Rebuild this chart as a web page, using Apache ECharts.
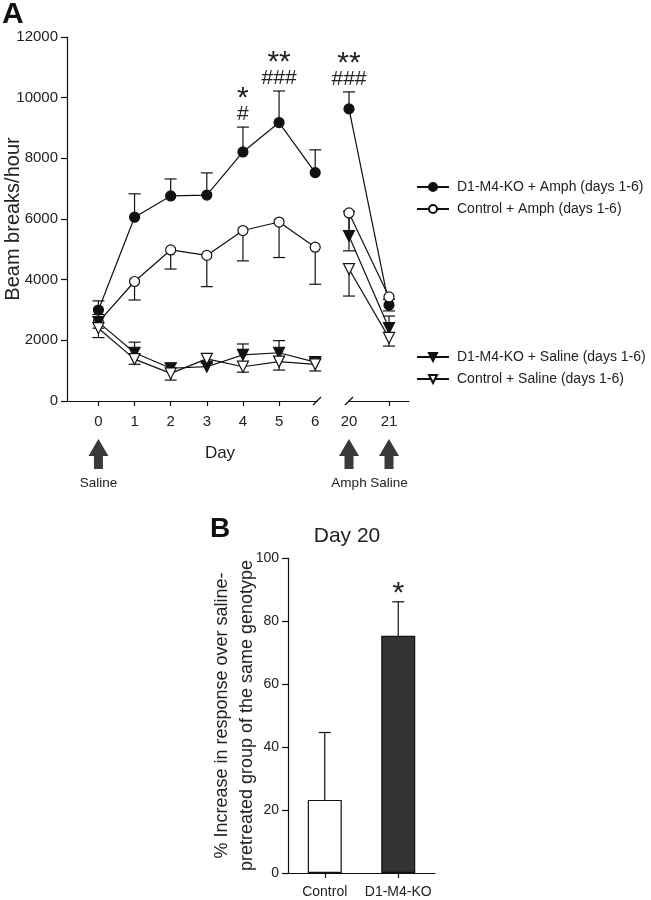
<!DOCTYPE html>
<html><head><meta charset="utf-8">
<script src="https://cdn.jsdelivr.net/npm/echarts@6/dist/echarts.min.js"></script>
<style>html,body{margin:0;padding:0;background:#fff}#c{width:651px;height:900px}</style>
</head><body><div id="c"></div>
<script>
// ---------- Panel A data ----------
const daysEarly = [0, 1, 2, 3, 4, 5, 6];
const daysLate = [20, 21];
const earlyTickDays = [0, 1, 2, 3, 4, 5];
const lateTickDays = [21];

const koAmphEarly    = [3000, 6060, 6760, 6790, 8210, 9180, 7530];
const koAmphEarlyErr = [3300, 6830, 7320, 7520, 9030, 10220, 8280];
const koAmphLate     = [9630, 3160];
const koAmphLateErr  = [10190, 3350];

const ctAmphEarly    = [2600, 3940, 4980, 4800, 5620, 5900, 5070];
const ctAmphEarlyErr = [2400, 3330, 4350, 3770, 4620, 4730, 3850];
const ctAmphLate     = [6200, 3430];
const ctAmphLateErr  = [4950, 2970];

const koSalEarly     = [2600, 1590, 1080, 1130, 1520, 1590, 1280];
const koSalEarlyErr  = [2850, 1940, 1240, 1250, 1880, 1990, 1380];
const koSalLate      = [5440, 2400];
const koSalLateErr   = [6250, 2800];

const ctSalEarly     = [2400, 1380, 910, 1390, 1130, 1300, 1210];
const ctSalEarlyErr  = [2090, 1210, 690, 1250, 950, 1020, 990];
const ctSalLate      = [4350, 2080];
const ctSalLateErr   = [3460, 1810];

const sigEarlyDays   = [4, 5];
const sigEarlyStars  = ['*', '**'];
const sigEarlyHashes = ['#', '###'];
const sigLateDays    = [20];
const sigLateStars   = ['**'];
const sigLateHashes  = ['###'];

const arrowEarlyDays   = [0];
const arrowEarlyLabels = ['Saline'];
const arrowLateDays    = [20, 21];
const arrowLateLabels  = ['Amph', 'Saline'];

// ---------- Panel B data ----------
const groupsB = ['Control', 'D1-M4-KO'];
const increaseB = [23.2, 75.3];
const increaseBErr = [44.6, 86.1];
const sigB = ['', '*'];

const FONT = '"Liberation Sans", Arial, Helvetica, sans-serif';
const INK = '#111';
const TXT = '#222';

const groups = [
  {name: 'D1-M4-KO + Amph (days 1-6)', symbol: 'circle', rot: 0, fill: INK, size: 10,
   early: koAmphEarly, earlyErr: koAmphEarlyErr, late: koAmphLate, lateErr: koAmphLateErr},
  {name: 'Control + Amph (days 1-6)', symbol: 'circle', rot: 0, fill: '#fff', size: 10,
   early: ctAmphEarly, earlyErr: ctAmphEarlyErr, late: ctAmphLate, lateErr: ctAmphLateErr},
  {name: 'D1-M4-KO + Saline (days 1-6)', symbol: 'triangle', rot: 180, fill: INK, size: 11,
   early: koSalEarly, earlyErr: koSalEarlyErr, late: koSalLate, lateErr: koSalLateErr},
  {name: 'Control + Saline (days 1-6)', symbol: 'triangle', rot: 180, fill: '#fff', size: 11,
   early: ctSalEarly, earlyErr: ctSalEarlyErr, late: ctSalLate, lateErr: ctSalLateErr}
];

function errRender(params, api) {
  const x = api.value(0);
  const p0 = api.coord([x, api.value(1)]);
  const p1 = api.coord([x, api.value(2)]);
  const w = 6;
  const st = {stroke: INK, lineWidth: 1.2};
  return {type: 'group', children: [
    {type: 'line', shape: {x1: p0[0], y1: p0[1], x2: p1[0], y2: p1[1]}, style: st},
    {type: 'line', shape: {x1: p1[0] - w, y1: p1[1], x2: p1[0] + w, y2: p1[1]}, style: st}
  ]};
}

function makeSig(stars, hashes) {
  return function (params, api) {
    const p = api.coord([api.value(0), api.value(1)]);
    const i = params.dataIndex;
    return {type: 'group', children: [
      {type: 'text', style: {text: stars[i], x: p[0], y: p[1] - 28, align: 'center', verticalAlign: 'middle',
        fontSize: 30, fontFamily: FONT, fill: TXT}},
      {type: 'text', style: {text: hashes[i], x: p[0], y: p[1] - 13, align: 'center', verticalAlign: 'middle',
        fontSize: 21, fontFamily: FONT, fill: TXT}}
    ]};
  };
}

function makeArrow(labels) {
  return function (params, api) {
    const p = api.coord([api.value(0), 0]);
    const x = p[0], y = p[1];
    return {type: 'group', children: [
      {type: 'polygon', shape: {points: [
        [x, y + 38], [x + 10, y + 55], [x + 4.5, y + 55], [x + 4.5, y + 68],
        [x - 4.5, y + 68], [x - 4.5, y + 55], [x - 10, y + 55]]},
        style: {fill: '#3a3a3a'}},
      {type: 'text', style: {text: labels[params.dataIndex], x: x, y: y + 82, align: 'center', verticalAlign: 'middle',
        fontSize: 13.5, fontFamily: FONT, fill: TXT}}
    ]};
  };
}

function slashRender(params, api) {
  const p = api.coord([api.value(0), 0]);
  return {type: 'line', shape: {x1: p[0] - 4, y1: p[1] + 4, x2: p[0] + 4, y2: p[1] - 4},
    style: {stroke: INK, lineWidth: 1.2}};
}

const series = [];
groups.forEach(function (g) {
  [[0, daysEarly, g.early, g.earlyErr], [1, daysLate, g.late, g.lateErr]].forEach(function (seg) {
    const ax = seg[0], days = seg[1], vals = seg[2], errs = seg[3];
    series.push({
      type: 'line', name: g.name, xAxisIndex: ax, yAxisIndex: ax, z: 3,
      data: days.map(function (d, i) { return [d, vals[i]]; }),
      symbol: g.symbol, symbolSize: g.size, symbolRotate: g.rot, showSymbol: true,
      itemStyle: {color: g.fill, borderColor: INK, borderWidth: 1.2, opacity: 1},
      lineStyle: {color: INK, width: 1.2},
      emphasis: {disabled: true}
    });
    series.push({
      type: 'custom', xAxisIndex: ax, yAxisIndex: ax, z: 2, clip: false,
      encode: {x: 0, y: 1}, silent: true,
      data: days.map(function (d, i) { return [d, vals[i], errs[i]]; }),
      renderItem: errRender
    });
  });
});

series.push({type: 'custom', xAxisIndex: 0, yAxisIndex: 0, clip: false, silent: true, z: 4,
  encode: {x: 0, y: 1},
  data: sigEarlyDays.map(function (d) { return [d, koAmphEarlyErr[daysEarly.indexOf(d)]]; }),
  renderItem: makeSig(sigEarlyStars, sigEarlyHashes)});
series.push({type: 'custom', xAxisIndex: 1, yAxisIndex: 1, clip: false, silent: true, z: 4,
  encode: {x: 0, y: 1},
  data: sigLateDays.map(function (d) { return [d, koAmphLateErr[daysLate.indexOf(d)]]; }),
  renderItem: makeSig(sigLateStars, sigLateHashes)});

series.push({type: 'custom', xAxisIndex: 0, yAxisIndex: 0, clip: false, silent: true,
  encode: {x: 0, y: 1}, data: arrowEarlyDays.map(function (d) { return [d, 0]; }),
  renderItem: makeArrow(arrowEarlyLabels)});
series.push({type: 'custom', xAxisIndex: 1, yAxisIndex: 1, clip: false, silent: true,
  encode: {x: 0, y: 1}, data: arrowLateDays.map(function (d) { return [d, 0]; }),
  renderItem: makeArrow(arrowLateLabels)});

series.push({type: 'custom', xAxisIndex: 0, yAxisIndex: 0, clip: false, silent: true, z: 5,
  encode: {x: 0, y: 1}, data: [[6.05, 0]], renderItem: slashRender});
series.push({type: 'custom', xAxisIndex: 1, yAxisIndex: 1, clip: false, silent: true, z: 5,
  encode: {x: 0, y: 1}, data: [[20, 0]], renderItem: slashRender});

// Panel B
series.push({
  type: 'bar', xAxisIndex: 2, yAxisIndex: 2, barWidth: 34, z: 2,
  data: increaseB.map(function (v, i) {
    return {value: v, itemStyle: {color: i === 0 ? '#fff' : '#333', borderColor: INK, borderWidth: 1.2}};
  }),
  emphasis: {disabled: true}
});
series.push({
  type: 'custom', xAxisIndex: 2, yAxisIndex: 2, z: 3, clip: false, silent: true,
  encode: {x: 0, y: 1},
  data: increaseB.map(function (v, i) { return [i, v, increaseBErr[i]]; }),
  renderItem: errRender
});
series.push({
  type: 'custom', xAxisIndex: 2, yAxisIndex: 2, z: 3, clip: false, silent: true,
  encode: {x: 0, y: 1},
  data: increaseBErr.map(function (v, i) { return [i, v]; }),
  renderItem: function (params, api) {
    const p = api.coord([api.value(0), api.value(1)]);
    return {type: 'text', style: {text: sigB[params.dataIndex], x: p[0], y: p[1] - 8,
      align: 'center', verticalAlign: 'middle', fontSize: 30, fontFamily: FONT, fill: TXT}};
  }
});

const axLine = {show: true, onZero: false, lineStyle: {color: INK, width: 1.2}};
const axTick = {show: true, length: 6, lineStyle: {color: INK, width: 1.2}};
const axLabel = {color: TXT, fontSize: 15, fontFamily: FONT};
const plain = function (v) { return String(v); };

const option = {
  animation: false,
  backgroundColor: '#fff',
  textStyle: {fontFamily: FONT},
  grid: [
    {left: 67, top: 37, width: 250, height: 364, outerBoundsMode: 'none', containLabel: false},
    {left: 349, top: 37, width: 60, height: 364, outerBoundsMode: 'none', containLabel: false},
    {left: 288, top: 558, width: 147, height: 315, outerBoundsMode: 'none', containLabel: false}
  ],
  legend: [
    {left: 416, top: 180, padding: 0, orient: 'vertical', itemWidth: 32, itemHeight: 10, itemGap: 8,
     data: [groups[0].name, groups[1].name], selectedMode: false,
     textStyle: {fontSize: 14, color: TXT, fontFamily: FONT, padding: [0, 0, 0, 3]}},
    {left: 416, top: 350, padding: 0, orient: 'vertical', itemWidth: 32, itemHeight: 10, itemGap: 8,
     data: [groups[2].name, groups[3].name], selectedMode: false,
     textStyle: {fontSize: 14, color: TXT, fontFamily: FONT, padding: [0, 0, 0, 3]}}
  ],
  xAxis: [
    {type: 'value', gridIndex: 0, min: -0.87, max: 6.05, splitLine: {show: false},
     axisLine: axLine, axisTick: Object.assign({}, axTick, {length: 5, customValues: earlyTickDays}),
     axisLabel: Object.assign({}, axLabel, {margin: 13, customValues: daysEarly, formatter: plain})},
    {type: 'value', gridIndex: 1, min: 20, max: 21.5, splitLine: {show: false},
     axisLine: axLine, axisTick: Object.assign({}, axTick, {length: 5, customValues: lateTickDays}),
     axisLabel: Object.assign({}, axLabel, {margin: 13, customValues: daysLate, formatter: plain})},
    {type: 'category', gridIndex: 2, data: groupsB, axisLine: axLine,
     axisTick: Object.assign({}, axTick, {length: 5, alignWithLabel: true}),
     axisLabel: Object.assign({}, axLabel, {fontSize: 14, margin: 12, interval: 0, hideOverlap: false})}
  ],
  yAxis: [
    {type: 'value', gridIndex: 0, min: 0, max: 12000, interval: 2000, splitLine: {show: false},
     axisLine: axLine, axisTick: axTick, axisLabel: Object.assign({}, axLabel, {margin: 9, formatter: plain}),
     name: 'Beam breaks/hour', nameLocation: 'middle', nameGap: 44, nameMoveOverlap: false,
     nameTextStyle: {fontSize: 20, color: TXT, fontFamily: FONT}},
    {type: 'value', gridIndex: 1, min: 0, max: 12000, show: false},
    {type: 'value', gridIndex: 2, min: 0, max: 100, interval: 20, splitLine: {show: false},
     axisLine: axLine, axisTick: axTick, axisLabel: Object.assign({}, axLabel, {fontSize: 14, margin: 9, formatter: plain}),
     name: '% Increase in response over saline-\npretreated group of the same genotype',
     nameLocation: 'middle', nameGap: 28, nameMoveOverlap: false,
     nameTextStyle: {fontSize: 18, lineHeight: 25, color: TXT, fontFamily: FONT}}
  ],
  graphic: [
    {type: 'text', left: 2, top: 0, style: {text: 'A', fontSize: 30, fontWeight: 'bold', fontFamily: FONT, fill: INK}},
    {type: 'text', left: 210, top: 515, style: {text: 'B', fontSize: 28, fontWeight: 'bold', fontFamily: FONT, fill: INK}},
    {type: 'text', x: 220, y: 453, style: {text: 'Day', fontSize: 17, fontFamily: FONT, fill: TXT, align: 'center', verticalAlign: 'middle'}},
    {type: 'text', x: 347, y: 536, style: {text: 'Day 20', fontSize: 21, fontFamily: FONT, fill: TXT, align: 'center', verticalAlign: 'middle'}}
  ],
  series: series
};

const chart = echarts.init(document.getElementById('c'), null, {renderer: 'canvas'});
chart.setOption(option);
</script>
</body></html>
